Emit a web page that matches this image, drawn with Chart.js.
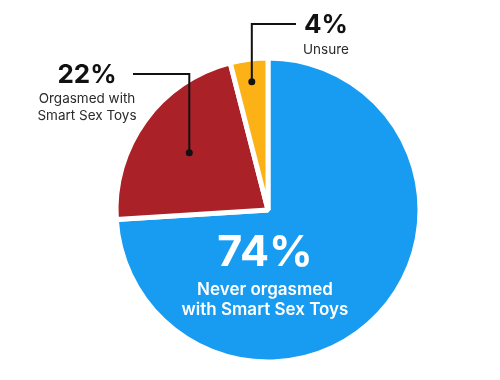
<!DOCTYPE html>
<html><head><meta charset="utf-8">
<script src="https://cdn.jsdelivr.net/npm/chart.js@4/dist/chart.umd.min.js"></script>
<style>html,body{margin:0;padding:0;background:#fff}</style>
</head><body>
<canvas id="c" width="500" height="380"></canvas>
<script>
// ---- data ----
const categories = ['Never orgasmed with Smart Sex Toys', 'Orgasmed with Smart Sex Toys', 'Unsure'];
const values = [74, 22, 4];
const valueLabels = ['74%', '22%', '4%'];
const labelLines = [['Never orgasmed', 'with Smart Sex Toys'], ['Orgasmed with', 'Smart Sex Toys'], ['Unsure']];
const colors = ['#189cf2', '#aa2127', '#fcb216'];

// ---- layout (not data) ----
const FONT = 'Inter, "Open Sans", sans-serif';
const callouts = [
  null,
  {dotFrac: 0.64, tx: 87, ty: 75, sub: [99, 116], lineFrom: 133},
  {dotFrac: 0.85, tx: 326, ty: 25, sub: [50], lineFrom: 296}
];

const labelPlugin = {
  id: 'labels',
  afterDatasetsDraw(chart) {
    const ctx = chart.ctx;
    const meta = chart.getDatasetMeta(0);
    ctx.save();
    ctx.textAlign = 'center';
    ctx.textBaseline = 'middle';
    meta.data.forEach((arc, i) => {
      const p = arc.getProps(['x', 'y', 'startAngle', 'endAngle', 'outerRadius'], true);
      if (i === 0) {
        ctx.fillStyle = '#ffffff';
        ctx.font = 'bold 43px ' + FONT;
        ctx.fillText(valueLabels[i], p.x - 3, p.y + 43);
        ctx.font = '600 17px ' + FONT;
        ctx.fillText(labelLines[i][0], p.x - 3, p.y + 80);
        ctx.fillText(labelLines[i][1], p.x - 3, p.y + 100);
        return;
      }
      const c = callouts[i];
      const mid = (p.startAngle + p.endAngle) / 2;
      const dx = p.x + Math.cos(mid) * p.outerRadius * c.dotFrac;
      const dy = p.y + Math.sin(mid) * p.outerRadius * c.dotFrac;
      ctx.strokeStyle = '#111';
      ctx.lineWidth = 2;
      ctx.beginPath();
      ctx.moveTo(c.lineFrom, c.ty - 1);
      ctx.lineTo(dx, c.ty - 1);
      ctx.lineTo(dx, dy);
      ctx.stroke();
      ctx.fillStyle = '#111';
      ctx.beginPath();
      ctx.arc(dx, dy, 3.5, 0, Math.PI * 2);
      ctx.fill();
      ctx.font = 'bold 26px ' + FONT;
      ctx.fillText(valueLabels[i], c.tx, c.ty);
      ctx.fillStyle = '#2a2a2a';
      ctx.font = '13.5px ' + FONT;
      labelLines[i].forEach((t, k) => ctx.fillText(t, c.tx, c.sub[k]));
    });
    ctx.restore();
  }
};

new Chart(document.getElementById('c'), {
  type: 'pie',
  data: {
    labels: categories,
    datasets: [{
      data: values,
      backgroundColor: colors,
      borderColor: '#ffffff',
      borderWidth: 5,
      hoverOffset: 0
    }]
  },
  options: {
    responsive: false,
    animation: false,
    radius: 152,
    layout: {padding: {left: 36, top: 40, right: 0, bottom: 0}},
    plugins: {legend: {display: false}, tooltip: {enabled: false}}
  },
  plugins: [labelPlugin]
});
</script>
</body></html>
